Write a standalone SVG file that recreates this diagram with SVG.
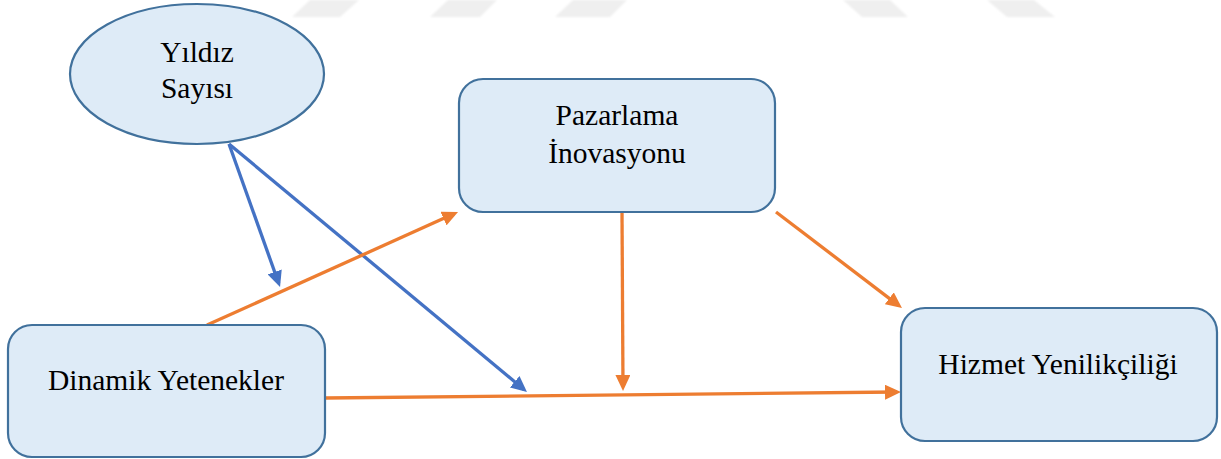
<svg xmlns="http://www.w3.org/2000/svg" width="1221" height="459" viewBox="0 0 1221 459">
  <style>
    .node { fill: #deebf7; stroke: #41719c; stroke-width: 2.2; }
    .label { font-family: "Liberation Serif", "Times New Roman", serif; font-size: 29.5px; fill: #000; text-anchor: middle; }
    .blue { stroke: #4472c4; stroke-width: 3.3; fill: none; }
    .orange { stroke: #ed7d31; stroke-width: 3.3; fill: none; }
    .mark { fill: #efefef; }
  </style>
  <defs>
    <marker id="head-blue" viewBox="0 0 16 15" refX="12" refY="7.5" markerWidth="16" markerHeight="15" markerUnits="userSpaceOnUse" orient="auto">
      <path d="M0,0 L16,7.5 L0,15 Z" fill="#4472c4"/>
    </marker>
    <marker id="head-orange" viewBox="0 0 16 15" refX="12" refY="7.5" markerWidth="16" markerHeight="15" markerUnits="userSpaceOnUse" orient="auto">
      <path d="M0,0 L16,7.5 L0,15 Z" fill="#ed7d31"/>
    </marker>
    <filter id="soft" x="-10%" y="-50%" width="120%" height="200%">
      <feGaussianBlur stdDeviation="0.8"/>
    </filter>
  </defs>

  <rect width="1221" height="459" fill="#ffffff"/>

  <!-- faint background chevrons along the top edge -->
  <g id="background-marks" filter="url(#soft)">
    <polygon class="mark" points="310,0 359,0 340,17 292,17"/>
    <polygon class="mark" points="448,0 497,0 480,17 430,17"/>
    <polygon class="mark" points="573,0 627,0 610,17 555,17"/>
    <polygon class="mark" points="843,0 890,0 908,17 862,17"/>
    <polygon class="mark" points="987,0 1034,0 1055,17 1007,17"/>
  </g>

  <g id="connectors">
    <line class="blue" x1="229" y1="144" x2="278.7" y2="283.2" marker-end="url(#head-blue)"/>
    <line class="blue" x1="229" y1="144" x2="523.9" y2="389.4" marker-end="url(#head-blue)"/>
    <line class="orange" x1="207" y1="325" x2="454.4" y2="213.6" marker-end="url(#head-orange)"/>
    <line class="orange" x1="622" y1="212" x2="623" y2="387" marker-end="url(#head-orange)"/>
    <line class="orange" x1="325" y1="398" x2="897" y2="392" marker-end="url(#head-orange)"/>
    <line class="orange" x1="776" y1="212" x2="898.8" y2="305.6" marker-end="url(#head-orange)"/>
  </g>

  <g id="yildiz-sayisi">
    <ellipse class="node" cx="197" cy="74" rx="127" ry="70"/>
    <text class="label" x="197" y="62">Yıldız</text>
    <text class="label" x="197" y="98">Sayısı</text>
  </g>

  <g id="pazarlama-inovasyonu">
    <rect class="node" x="459" y="79" width="316" height="133" rx="24" ry="24"/>
    <text class="label" x="617" y="125">Pazarlama</text>
    <text class="label" x="617" y="163">İnovasyonu</text>
  </g>

  <g id="dinamik-yetenekler">
    <rect class="node" x="8" y="325" width="317" height="132" rx="24" ry="24"/>
    <text class="label" x="166" y="390">Dinamik Yetenekler</text>
  </g>

  <g id="hizmet-yenilikciligi">
    <rect class="node" x="901" y="308" width="316" height="133" rx="24" ry="24"/>
    <text class="label" x="1058" y="374">Hizmet Yenilikçiliği</text>
  </g>
</svg>
